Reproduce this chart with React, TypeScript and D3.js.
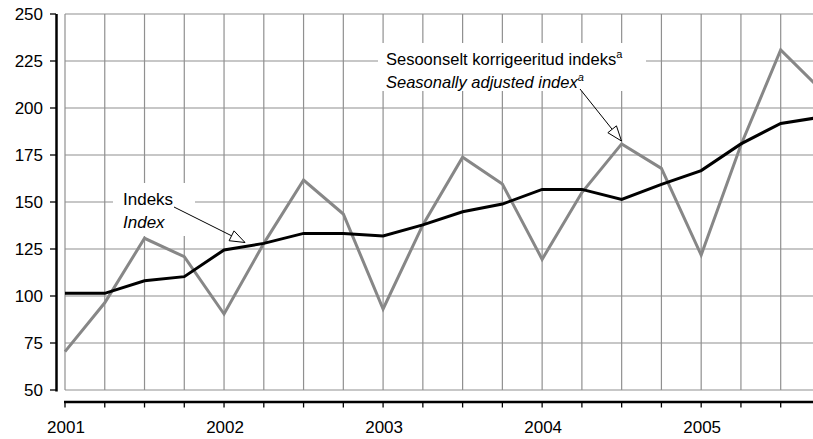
import React from "react";
import * as d3 from "d3";

const quarters = d3.range(20); // 2001Q1 .. 2005Q4
const yearLabels = ["2001", "2002", "2003", "2004", "2005"];
const yTicks = [50, 75, 100, 125, 150, 175, 200, 225, 250];

const seasonal = [70.4, 96.4, 130.7, 120.9, 90.4, 128, 161.7, 143.6, 93.1, 137.8, 173.8, 159.6, 119.5, 155, 180.9, 167.9, 121.8, 180.3, 230.9, 210];
const index = [101.4, 101.4, 108.1, 110.3, 124.5, 128, 133.3, 133.3, 131.9, 137.8, 144.8, 148.9, 156.7, 156.7, 151.4, 159.4, 166.7, 180.9, 191.8, 195.1];

const W = 813, H = 439;
const FONT = "'Liberation Sans', Arial, Helvetica, sans-serif";
const FS = 17;

export default function App() {
  const x = d3.scaleLinear().domain([0, 18]).range([65, 780.7]);
  const y = d3.scaleLinear().domain([50, 250]).range([390, 14]);
  const line = d3.line<number>().x((_, i) => x(i)).y((d) => y(d));

  const arrowHead = (x1: number, y1: number, x2: number, y2: number) => {
    const ang = Math.atan2(y2 - y1, x2 - x1);
    const L = 15, Wd = 5.5;
    const bx = x2 - L * Math.cos(ang), by = y2 - L * Math.sin(ang);
    const px = -Math.sin(ang) * Wd, py = Math.cos(ang) * Wd;
    return `M${x2},${y2}L${bx + px},${by + py}L${bx - px},${by - py}Z`;
  };

  const ann = [
    { box: [113, 183, 82, 53], lines: ["Indeks", "Index"], tx: 123, ty: 205, fs: 17, sup: false, from: [174, 207], to: [245, 242.5] },
    { box: [378, 43, 268, 48], lines: ["Sesoonselt korrigeeritud indeks", "Seasonally adjusted index"], tx: 386, ty: 65, fs: 16.5, sup: true, from: [580, 89], to: [621.5, 141] },
  ];

  return (
    <div style={{ position: "fixed", left: 0, top: 0 }}>
      <svg width={W} height={H} style={{ display: "block", background: "#fff" }} fontFamily={FONT}>
        {/* grid */}
        {yTicks.map((t) => (
          <line key={"h" + t} x1={65} x2={W} y1={y(t)} y2={y(t)} stroke="#909090" strokeWidth={1.2} />
        ))}
        {quarters.map((q) => (
          <line key={"v" + q} x1={x(q)} x2={x(q)} y1={y(250)} y2={y(50)} stroke="#909090" strokeWidth={1.2} />
        ))}
        {/* y axis */}
        <line x1={56.5} x2={56.5} y1={y(250)} y2={y(50) + 1.5} stroke="#000" strokeWidth={2.5} />
        {yTicks.map((t) => (
          <g key={"yt" + t}>
            <line x1={50} x2={56} y1={y(t)} y2={y(t)} stroke="#000" strokeWidth={1.3} />
            <text x={43} y={y(t)} dy="0.35em" textAnchor="end" fontSize={FS} fill="#000">{t}</text>
          </g>
        ))}
        {/* x axis */}
        <line x1={64} x2={W} y1={402} y2={402} stroke="#000" strokeWidth={2.5} />
        {quarters.map((q) => (
          <line key={"xt" + q} x1={x(q)} x2={x(q)} y1={402} y2={407.5} stroke="#000" strokeWidth={1.3} />
        ))}
        {yearLabels.map((lab, i) => (
          <text key={lab} x={x(i * 4) + 1} y={433} textAnchor="middle" fontSize={FS} fill="#000">{lab}</text>
        ))}
        {/* annotation boxes */}
        {ann.map((a, i) => (
          <rect key={"b" + i} x={a.box[0]} y={a.box[1]} width={a.box[2]} height={a.box[3]} fill="#fff" />
        ))}
        {/* series */}
        <path d={line(seasonal) || ""} fill="none" stroke="#878787" strokeWidth={3} strokeLinejoin="miter" />
        <path d={line(index) || ""} fill="none" stroke="#000" strokeWidth={3} strokeLinejoin="miter" />
        {/* annotations */}
        {ann.map((a, i) => (
          <g key={"a" + i}>
            <text x={a.tx} y={a.ty} fontSize={a.fs} fill="#000">
              {a.lines[0]}
              {a.sup && <tspan fontSize={11} dy={-7}>a</tspan>}
            </text>
            <text x={a.tx} y={a.ty + 23} fontSize={a.fs} fontStyle="italic" fill="#000">
              {a.lines[1]}
              {a.sup && <tspan fontSize={11} dy={-7}>a</tspan>}
            </text>
            <line x1={a.from[0]} y1={a.from[1]} x2={a.to[0]} y2={a.to[1]} stroke="#000" strokeWidth={1} />
            <path d={arrowHead(a.from[0], a.from[1], a.to[0], a.to[1])} fill="#fff" stroke="#000" strokeWidth={1} />
          </g>
        ))}
      </svg>
    </div>
  );
}
